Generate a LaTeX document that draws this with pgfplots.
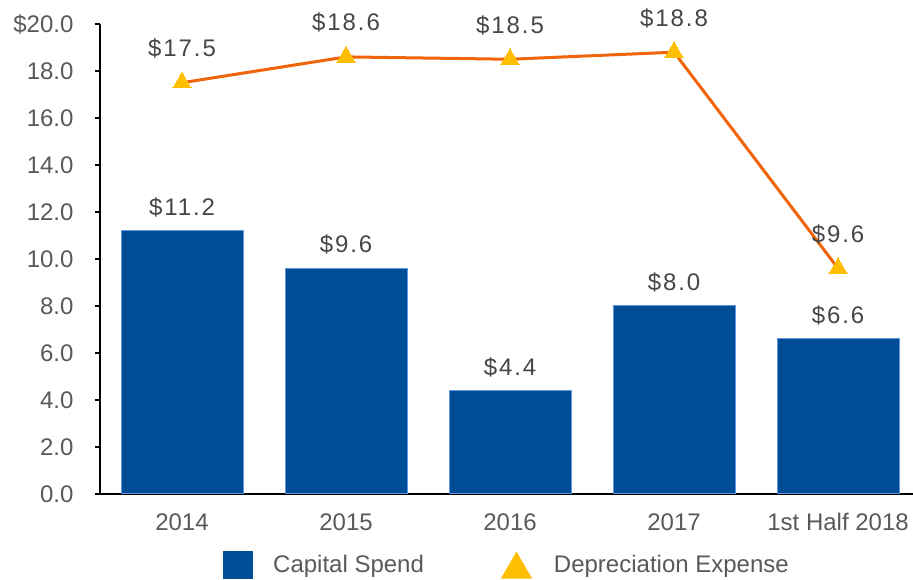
\documentclass[border=0pt]{standalone}
\usepackage{fontspec}
\setmainfont{Liberation Sans}
\newfontfamily\lblfont[LetterSpace=8]{Liberation Sans}
\usepackage{pgfplots}
\pgfplotsset{compat=1.18}
\definecolor{barblue}{RGB}{0,77,151}
\definecolor{baredge}{RGB}{95,150,220}
\definecolor{lineorange}{RGB}{240,100,10}
\definecolor{markgold}{RGB}{255,190,0}
\definecolor{txtgray}{RGB}{89,89,89}
\definecolor{lblgray}{RGB}{70,70,70}
\begin{document}
\begin{tikzpicture}
\begin{axis}[
  scale only axis, width=813pt, height=470pt,
  xmin=-0.5, xmax=4.457, ymin=0, ymax=20,
  axis x line*=bottom, axis y line*=left,
  axis line style={line width=1.5pt, black},
  xtick={0,...,4},
  xticklabels={2014,2015,2016,2017,1st Half 2018},
  ytick={0,2,...,20},
  yticklabels={0.0,2.0,4.0,6.0,8.0,10.0,12.0,14.0,16.0,18.0,\$20.0},
  tick align=outside,
  major tick length=5pt,
  xtick style={draw=none},
  ytick style={line width=1.5pt, black},
  tick label style={font=\fontsize{24}{28}\selectfont, text=txtgray},
  xticklabel style={yshift=-11pt},
  yticklabel style={xshift=-18pt},
  clip=false,
  legend columns=-1,
  legend style={draw=none, fill=none, inner sep=0pt,
    at={(axis description cs:0.1513,-0.1511)}, anchor=west,
    font=\fontsize{24}{28}\selectfont, text=txtgray,
    /tikz/every odd column/.append style={column sep=18pt},
    /tikz/every even column/.append style={column sep=75pt}},
]
\addplot[ybar, bar width=122pt, bar shift=0pt, fill=barblue, draw=baredge, line width=1pt,
  point meta=explicit symbolic,
  nodes near coords,
  every node near coord/.append style={font=\lblfont\fontsize{24}{28}\selectfont, text=lblgray, yshift=10pt},
  legend image code/.code={\fill[barblue] (0pt,-13.5pt) rectangle (29pt,13.5pt);}]
coordinates {(0,11.2)[\$11.2] (1,9.6)[\$9.6] (2,4.4)[\$4.4] (3,8.0)[\$8.0] (4,6.6)[\$6.6]};
\addlegendentry{Capital Spend}
\addplot[lineorange, line width=3pt, mark=triangle*, mark size=10.5pt,
  mark options={fill=markgold, draw=markgold, line width=0pt},
  point meta=explicit symbolic,
  nodes near coords,
  every node near coord/.append style={font=\lblfont\fontsize{24}{28}\selectfont, text=lblgray, yshift=21pt},
  legend image code/.code={\fill[markgold, draw=none] (0pt,-13.5pt) -- (31pt,-13.5pt) -- (15.5pt,13.5pt) -- cycle; \path[draw=none, fill=none] (0pt,0pt) rectangle (33pt,0.1pt);}]
coordinates {(0,17.5)[\$17.5] (1,18.6)[\$18.6] (2,18.5)[\$18.5] (3,18.8)[\$18.8] (4,9.6)[\$9.6]};
\addlegendentry{Depreciation Expense}
\end{axis}
\pgfresetboundingbox
\path (-100pt,-86pt) rectangle (813pt,494pt);
\end{tikzpicture}
\end{document}
